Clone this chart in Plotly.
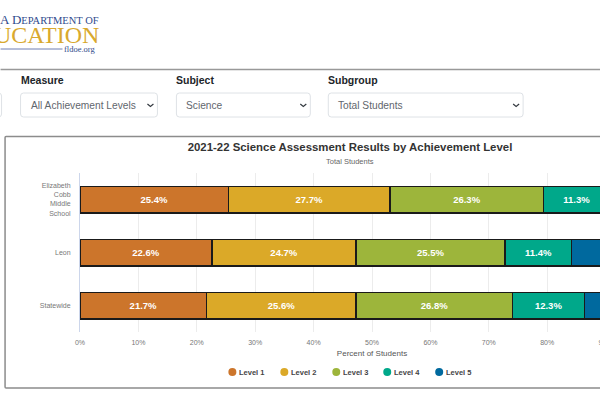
import plotly.graph_objects as go

schools = ["Elizabeth<br>Cobb<br>Middle<br>School", "Leon", "Statewide"]
levels = ["Level 1", "Level 2", "Level 3", "Level 4", "Level 5"]
level_1 = [25.4, 22.6, 21.7]
level_2 = [27.7, 24.7, 25.6]
level_3 = [26.3, 25.5, 26.8]
level_4 = [11.3, 11.4, 12.3]
level_5 = [9.3, 15.8, 13.6]
colors = ["#CC752B", "#DBA928", "#9DB53B", "#00A88A", "#00699E"]
x_ticks = list(range(0, 101, 10))

dropdown_labels = ["Measure", "Subject", "Subgroup"]
dropdown_values = ["All Achievement Levels", "Science", "Total Students"]

# the page is wider than the window, the right side gets cut off like the original
W, H = 700, 400
L, R, T, B = 79.5, 36, 173, 68
FONT = "Liberation Sans"


def px(x):
    return (x - L) / (W - L - R)


def py(y):
    return 1 - (y - T) / (H - T - B)


def text(x, y, s, size, color, anchor="left", family=FONT):
    fig.add_annotation(x=px(x), y=py(y), xref="paper", yref="paper", text=s, showarrow=False,
                       xanchor=anchor, yanchor="middle",
                       font=dict(family=family, size=size, color=color))


def round_box(x0, y0, x1, y1, color, width=1, r=3):
    d = (f"M {px(x0 + r)} {py(y0)} L {px(x1 - r)} {py(y0)} Q {px(x1)} {py(y0)} {px(x1)} {py(y0 + r)} "
         f"L {px(x1)} {py(y1 - r)} Q {px(x1)} {py(y1)} {px(x1 - r)} {py(y1)} "
         f"L {px(x0 + r)} {py(y1)} Q {px(x0)} {py(y1)} {px(x0)} {py(y1 - r)} "
         f"L {px(x0)} {py(y0 + r)} Q {px(x0)} {py(y0)} {px(x0 + r)} {py(y0)} Z")
    fig.add_shape(type="path", xref="paper", yref="paper", path=d, line=dict(color=color, width=width), layer="below")


fig = go.Figure()

for name, vals, c in zip(levels, [level_1, level_2, level_3, level_4, level_5], colors):
    fig.add_trace(go.Bar(y=schools, x=vals, orientation="h", name=name, showlegend=False,
                         marker=dict(color=c, line=dict(color="#1a1a1a", width=1.5)),
                         text=[f"{v}%" for v in vals], textposition="inside", insidetextanchor="middle",
                         textangle=0, textfont=dict(family=FONT, size=9.5, color="white", weight="bold")))

fig.update_layout(
    width=W, height=H, margin=dict(l=L, r=R, t=T, b=B), autosize=False,
    barmode="stack", bargap=0.5, plot_bgcolor="white", paper_bgcolor="white", showlegend=False,
    font=dict(family=FONT, size=7, color="#666666"),
    title=dict(text="<b>2021-22 Science Assessment Results by Achievement Level</b>", x=350 / W, xanchor="center",
               y=1 - 147 / H, yanchor="middle", font=dict(family=FONT, size=11.4, color="#333333")),
    xaxis=dict(range=[0, 100], tickvals=x_ticks, ticktext=[f"{t}%" for t in x_ticks], showgrid=True,
               gridcolor="#ececec", gridwidth=1, zeroline=False, ticks="", ticklabelstandoff=5,
               tickfont=dict(size=7, color="#777777"),
               title=dict(text="Percent of Students", standoff=5, font=dict(size=8, color="#555555"))),
    yaxis=dict(autorange="reversed", showline=True, linecolor="#ccd6eb", linewidth=1, ticks="", ticklabelstandoff=7,
               tickfont=dict(size=7, color="#777777")),
)

# logo
text(-3, 19, 'A D<span style="font-size:10.5px">EPARTMENT OF</span>', 13, "#2F4A8C", family="Liberation Serif")
text(101, 35, "UCATION", 24, "#D9A92E", anchor="right", family="Liberation Serif")
text(98, 49, "fldoe.org", 8.5, "#2F4A8C", anchor="right", family="Liberation Serif")
fig.add_shape(type="line", xref="paper", yref="paper", x0=px(0), x1=px(62), y0=py(49), y1=py(49),
              line=dict(color="#6F7FB3", width=1))

# filter bar
fig.add_shape(type="line", xref="paper", yref="paper", x0=px(0), x1=px(W), y0=py(69.5), y1=py(69.5),
              line=dict(color="#999999", width=1.5))
round_box(-10, 93, 1, 117, "#dee2e6")
dropdown_x = [(20, 157), (176, 310), (328, 523)]
for (x0, x1), label, value in zip(dropdown_x, dropdown_labels, dropdown_values):
    round_box(x0, 93, x1, 117, "#dee2e6")
    text(x0 - 2, 80, f"<b>{label}</b>", 10.5, "#212529")
    text(x0 + 8, 105, value, 10.2, "#5f666d")
    fig.add_shape(type="path", xref="paper", yref="paper", line=dict(color="#343a40", width=1.2),
                  path=f"M {px(x1 - 10)} {py(104)} L {px(x1 - 7)} {py(106.5)} L {px(x1 - 4)} {py(104)}")

# chart card
round_box(4.5, 136.5, 696, 388, "#8c8c8c", 1.5, 1)
text(350, 161, "Total Students", 7.5, "#666666", anchor="center")

# round legend drawn by hand, bars only get square swatches
legend_x = [232, 284, 336, 387, 439]
for x, name, c in zip(legend_x, levels, colors):
    fig.add_shape(type="circle", xref="paper", yref="paper", x0=px(x - 4), x1=px(x + 4), y0=py(368), y1=py(376),
                  fillcolor=c, line=dict(width=0))
    text(x + 5, 372, f"<b>{name}</b>", 7.5, "#444444")

fig.write_html("out.html", config=dict(displayModeBar=False),
               post_script="document.body.style.margin='0';document.body.style.overflow='hidden';")
